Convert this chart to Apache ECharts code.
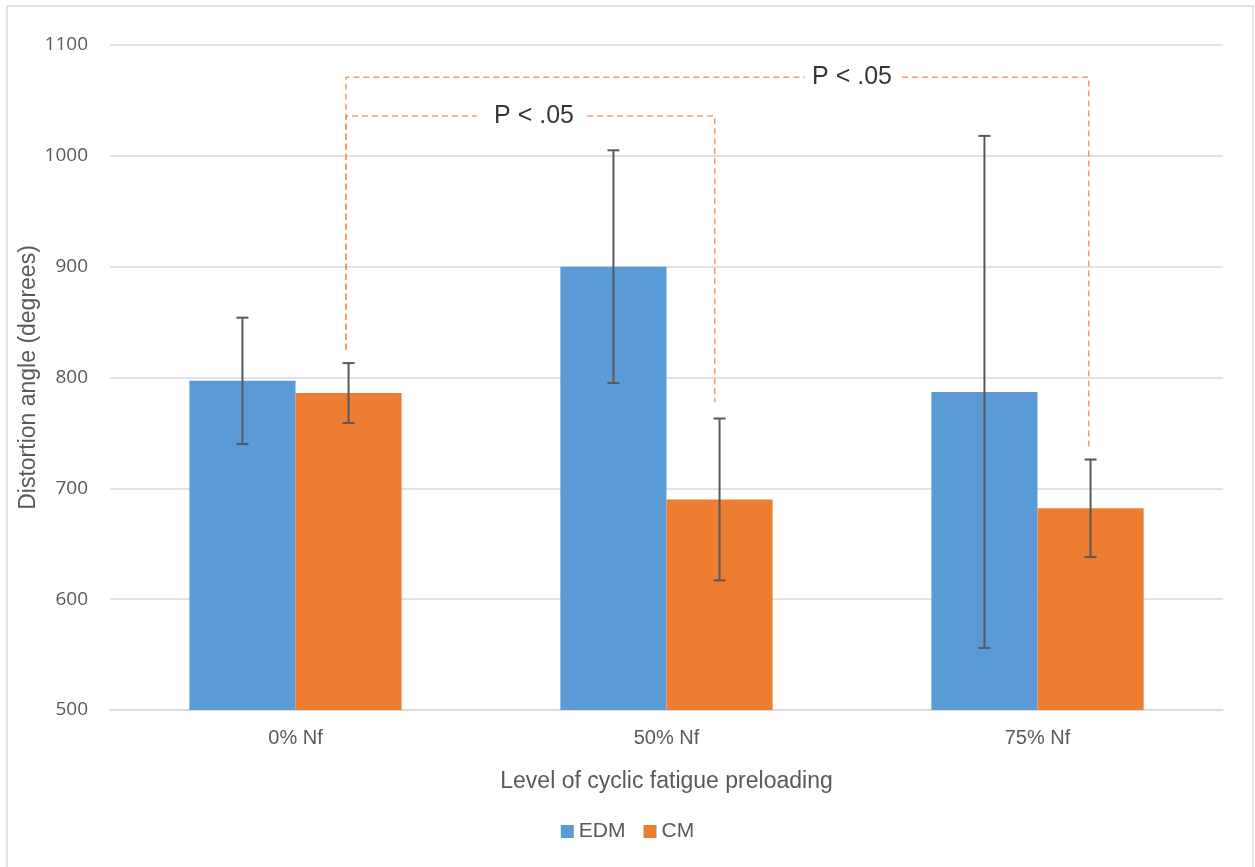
<!DOCTYPE html>
<html>
<head>
<meta charset="utf-8">
<script src="https://cdn.jsdelivr.net/npm/echarts@6/dist/echarts.min.js"></script>
<style>html,body{margin:0;padding:0;background:#fff}#c{width:1255px;height:867px}</style>
</head>
<body>
<div id="c"></div>
<script>
// ---- data ----
const categories = ['0% Nf', '50% Nf', '75% Nf'];
const seriesNames = ['EDM', 'CM'];
const edmMean = [797, 900, 787];
const edmErr = [57, 105, 231];
const cmMean = [786, 690, 682];
const cmErr = [27, 73, 44];
const yTicks = { min: 500, max: 1100, interval: 100 };
// significance brackets (x in category units, y in data units)
const sigLabel = 'P < .05';
const bracketA = { x1: 0.136, x2: 1.13, top: 1036, left: 825, right: 778, gapL: 0.489, gapR: 0.786, textX: 0.643 };
const bracketB = { x1: 0.136, x2: 2.138, top: 1071, left: 825, right: 736, gapL: 1.373, gapR: 1.635, textX: 1.5 };

const off = 0.143;
const font = "'Liberation Sans', sans-serif";
const tickFont = "'Open Sans', 'Liberation Sans', sans-serif";
const dashColor = 'rgba(240,140,75,0.85)';

function errData(means, errs, shift) {
  return means.map((m, i) => [i + shift, m - errs[i], m + errs[i]]);
}
function errSeries(means, errs, shift) {
  return {
    type: 'custom', xAxisIndex: 1, silent: true, z: 5,
    data: errData(means, errs, shift),
    renderItem: function (params, api) {
      const x = api.value(0);
      const lo = api.coord([x, api.value(1)]);
      const hi = api.coord([x, api.value(2)]);
      const w = 6;
      const st = { stroke: '#595959', lineWidth: 2 };
      return {
        type: 'group', children: [
          { type: 'line', shape: { x1: lo[0], y1: lo[1], x2: hi[0], y2: hi[1] }, style: st },
          { type: 'line', shape: { x1: lo[0] - w, y1: lo[1], x2: lo[0] + w, y2: lo[1] }, style: st },
          { type: 'line', shape: { x1: hi[0] - w, y1: hi[1], x2: hi[0] + w, y2: hi[1] }, style: st }
        ]
      };
    }
  };
}
function seg(points) {
  return {
    type: 'line', xAxisIndex: 1, data: points, symbol: 'none', silent: true, z: 4,
    lineStyle: { color: dashColor, width: 1.5, type: [6, 4] }
  };
}
function brackets(b) {
  return [
    seg([[b.x1, b.left], [b.x1, b.top], [b.gapL, b.top]]),
    seg([[b.gapR, b.top], [b.x2, b.top], [b.x2, b.right]])
  ];
}

const chart = echarts.init(document.getElementById('c'));
chart.setOption({
  animation: false,
  backgroundColor: '#fff',
  graphic: [{
    type: 'rect', shape: { x: 7, y: 6, width: 1246, height: 900 },
    style: { fill: 'none', stroke: '#d9d9d9', lineWidth: 1.5 }, silent: true
  }],
  grid: { left: 110, right: 32, top: 45, bottom: 157 },
  legend: {
    bottom: 20, left: 'center', icon: 'rect', itemWidth: 13, itemHeight: 13, itemGap: 18,
    data: seriesNames,
    textStyle: { color: '#595959', fontSize: 21, fontFamily: font }
  },
  xAxis: [{
    type: 'category', data: categories,
    axisLine: { lineStyle: { color: '#d9d9d9', width: 1.5 } },
    axisTick: { show: false },
    axisLabel: { color: '#595959', fontSize: 20, fontFamily: font, margin: 18 },
    name: 'Level of cyclic fatigue preloading', nameLocation: 'middle', nameGap: 60,
    nameTextStyle: { color: '#595959', fontSize: 23, fontFamily: font }
  }, {
    type: 'value', min: -0.5, max: 2.5, show: false
  }],
  yAxis: {
    type: 'value', min: yTicks.min, max: yTicks.max, interval: yTicks.interval,
    axisLine: { show: false }, axisTick: { show: false },
    splitLine: { lineStyle: { color: '#d9d9d9', width: 1.5 } },
    axisLabel: { color: '#595959', fontSize: 19, fontFamily: tickFont, margin: 22, formatter: v => String(v) },
    name: 'Distortion angle (degrees)', nameLocation: 'middle', nameGap: 70, nameRotate: 90,
    nameMoveOverlap: false,
    nameTextStyle: { color: '#595959', fontSize: 23, fontFamily: font }
  },
  series: [
    { name: seriesNames[0], type: 'bar', data: edmMean, barWidth: '28.6%', barGap: '0%', itemStyle: { color: '#5B9BD5' } },
    { name: seriesNames[1], type: 'bar', data: cmMean, barWidth: '28.6%', barGap: '0%', itemStyle: { color: '#ED7D31' } },
    errSeries(edmMean, edmErr, -off),
    errSeries(cmMean, cmErr, off),
    ...brackets(bracketA),
    ...brackets(bracketB),
    {
      type: 'scatter', xAxisIndex: 1, symbolSize: 0, silent: true, z: 6,
      data: [[bracketA.textX, bracketA.top], [bracketB.textX, bracketB.top]],
      label: { show: true, position: 'inside', formatter: sigLabel, color: '#000', fontSize: 25, fontFamily: font }
    }
  ]
});
</script>
</body>
</html>
